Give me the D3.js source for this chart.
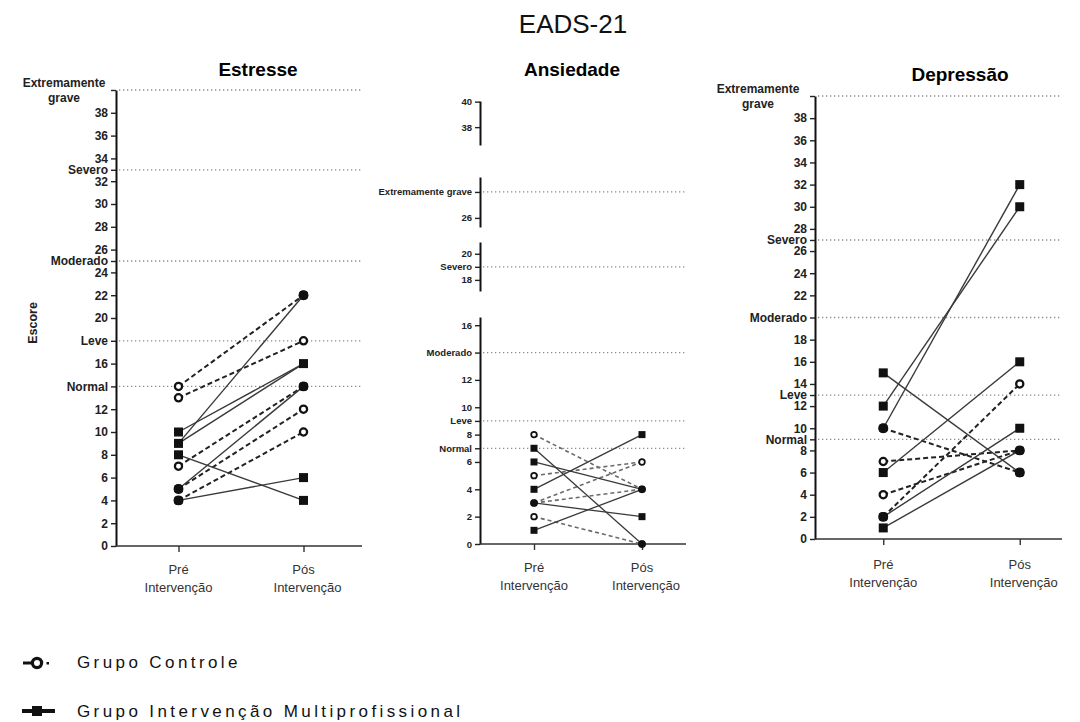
<!DOCTYPE html>
<html>
<head>
<meta charset="utf-8">
<script src="https://cdn.jsdelivr.net/npm/d3@7"></script>
<style>
  body { margin: 0; background: #fff; }
  svg { display: block; }
  text { font-family: Arial, "Liberation Sans", sans-serif; }
</style>
</head>
<body>
<svg id="chart" width="1080" height="722"></svg>
<script>
// ---- Data ----------------------------------------------------------------
const categories = ["Pré", "Pós"];
const categoryLine2 = "Intervenção";
const groups = ["Grupo Controle", "Grupo Intervenção Multiprofissional"];

// Estresse
const estresseControlePre = [14, 13, 7, 5, 4];
const estresseControlePos = [22, 18, 14, 12, 10];
const estresseIntervPre   = [10, 9, 9, 8, 5, 4];
const estresseIntervPos   = [16, 16, 22, 4, 14, 6];
const estresseTicks = [0, 2, 4, 6, 8, 10, 12, 16, 20, 22, 24, 26, 28, 30, 32, 34, 36, 38];
const estresseCutLabels = ["Normal", "Leve", "Moderado", "Severo", "Extremamente\ngrave"];
const estresseCutValues = [14, 18, 25, 33, 40];

// Ansiedade
const ansiedadeControlePre = [8, 5, 3, 3, 2];
const ansiedadeControlePos = [4, 6, 6, 4, 0];
const ansiedadeIntervPre   = [7, 6, 4, 3, 1];
const ansiedadeIntervPos   = [0, 4, 8, 2, 4];
const ansiedadeTicks = [0, 2, 4, 6, 8, 10, 12, 16, 18, 20, 26, 38, 40];
const ansiedadeCutLabels = ["Normal", "Leve", "Moderado", "Severo", "Extremamente grave"];
const ansiedadeCutValues = [7, 9, 14, 19, 28];
// visible stretches of the broken axis
const ansiedadeSegments = [[0, 16.6], [17.15, 20.9], [25.3, 29.15], [36.6, 40.05]];

// Depressão
const depressaoControlePre = [10, 7, 4, 2];
const depressaoControlePos = [6, 8, 8, 14];
const depressaoIntervPre   = [15, 12, 10, 6, 2, 1];
const depressaoIntervPos   = [6, 30, 32, 16, 10, 8];
const depressaoTicks = [0, 2, 4, 6, 8, 10, 12, 14, 16, 18, 22, 24, 26, 28, 30, 32, 34, 36, 38];
const depressaoCutLabels = ["Normal", "Leve", "Moderado", "Severo", "Extremamente\ngrave"];
const depressaoCutValues = [9, 13, 20, 27, 40];

// ---- Drawing -------------------------------------------------------------
const svg = d3.select("#chart");

svg.append("text")
  .attr("x", 573).attr("y", 33)
  .attr("text-anchor", "middle")
  .attr("font-size", 26)
  .attr("fill", "#111")
  .text("EADS-21");

svg.append("text")
  .attr("transform", "translate(37,323) rotate(-90)")
  .attr("text-anchor", "middle")
  .attr("font-size", 12.5)
  .attr("font-weight", "bold")
  .attr("fill", "#222")
  .text("Escore");

function pairs(pre, pos) {
  return pre.map((v, i) => ({ pre: v, pos: pos[i] }));
}

function drawPanel(cfg) {
  const g = svg.append("g");
  const x = d3.scalePoint().domain(categories).range([cfg.axisX, cfg.xEnd]).padding(0.5);

  // y mapping: either a single linear scale or a set of broken stretches
  const pieces = cfg.segments.map((dom, i) =>
    d3.scaleLinear().domain(dom).range(cfg.segmentPx[i]));
  const y = v => {
    const s = pieces.find(p => v >= p.domain()[0] - 1e-9 && v <= p.domain()[1] + 1e-9) || pieces[0];
    return s(v);
  };

  // title
  g.append("text")
    .attr("x", cfg.titleX).attr("y", cfg.titleY)
    .attr("text-anchor", "middle")
    .attr("font-size", 19).attr("font-weight", "bold")
    .text(cfg.title);

  // cut-off reference lines
  cfg.cutValues.forEach(v => {
    g.append("line")
      .attr("x1", cfg.axisX + 3).attr("x2", cfg.lineEnd)
      .attr("y1", y(v)).attr("y2", y(v))
      .attr("stroke", "#8c8c8c").attr("stroke-width", 1.3)
      .attr("stroke-dasharray", "1.3,2.7");
  });

  // y axis, one piece per stretch
  const labelOf = v => {
    const k = cfg.cutValues.indexOf(v);
    return k >= 0 ? cfg.cutLabels[k] : String(v);
  };
  pieces.forEach(scale => {
    const [lo, hi] = scale.domain();
    const vals = cfg.ticks.concat(cfg.cutValues).filter(v => v >= lo && v <= hi).sort((a, b) => a - b);
    const ax = g.append("g")
      .attr("transform", `translate(${cfg.axisX},0)`)
      .call(d3.axisLeft(scale).tickValues(vals).tickSize(5).tickSizeOuter(0)
        .tickPadding(3).tickFormat(labelOf));
    ax.select(".domain").attr("stroke", "#111").attr("stroke-width", 2);
    ax.selectAll(".tick line").attr("stroke", "#222").attr("stroke-width", 1.4);
    ax.selectAll(".tick text")
      .attr("font-family", "Arial, 'Liberation Sans', sans-serif")
      .attr("font-size", cfg.tickFont).attr("font-weight", "bold").attr("fill", "#222")
      .each(function (d) {
        const t = labelOf(d);
        if (t.includes("\n")) {
          const el = d3.select(this).text(null).attr("text-anchor", "middle").attr("dy", null);
          t.split("\n").forEach((part, i) => {
            el.append("tspan").attr("x", -cfg.multiOffset)
              .attr("y", i === 0 ? -4 : 11).text(part);
          });
        }
      });
  });

  // x axis
  const yBase = y(0);
  g.append("line")
    .attr("x1", cfg.axisX).attr("x2", cfg.lineEnd)
    .attr("y1", yBase).attr("y2", yBase)
    .attr("stroke", "#333").attr("stroke-width", 1.6);
  const xa = g.append("g").attr("transform", `translate(0,${yBase})`)
    .call(d3.axisBottom(x).tickSize(6).tickSizeOuter(0).tickFormat(""));
  xa.select(".domain").remove();
  xa.selectAll(".tick line").attr("stroke", "#333").attr("stroke-width", 1.4);

  categories.forEach(c => {
    const t = g.append("text").attr("text-anchor", "middle")
      .attr("font-size", 13).attr("fill", "#333");
    t.append("tspan").attr("x", x(c)).attr("y", yBase + cfg.catDy).text(c);
    t.append("tspan").attr("x", x(c) + (c === "Pós" ? 4 : 0)).attr("y", yBase + cfg.catDy + 18).text(categoryLine2);
  });

  // connecting lines
  const ctrl = pairs(cfg.controlePre, cfg.controlePos);
  const intv = pairs(cfg.intervPre, cfg.intervPos);
  g.selectAll(".ctrl").data(ctrl).join("line")
    .attr("x1", x("Pré")).attr("x2", x("Pós"))
    .attr("y1", d => y(d.pre)).attr("y2", d => y(d.pos))
    .attr("stroke", cfg.dashColor).attr("stroke-width", cfg.dashWidth)
    .attr("stroke-dasharray", cfg.dash);
  g.selectAll(".intv").data(intv).join("line")
    .attr("x1", x("Pré")).attr("x2", x("Pós"))
    .attr("y1", d => y(d.pre)).attr("y2", d => y(d.pos))
    .attr("stroke", "#3a3a3a").attr("stroke-width", cfg.solidWidth);

  // markers: open circle (controle), square (intervenção), filled where both meet
  const marks = new Map();
  const add = (cat, v, grp) => {
    const k = cat + "|" + v;
    if (!marks.has(k)) marks.set(k, { cat, v, grp: new Set() });
    marks.get(k).grp.add(grp);
  };
  ctrl.forEach(d => { add("Pré", d.pre, 0); add("Pós", d.pos, 0); });
  intv.forEach(d => { add("Pré", d.pre, 1); add("Pós", d.pos, 1); });
  const s = cfg.markSize;
  marks.forEach(m => {
    const cx = x(m.cat), cy = y(m.v);
    if (m.grp.size === 2) {
      g.append("rect").attr("x", cx - s / 2).attr("y", cy - s / 2)
        .attr("width", s).attr("height", s).attr("rx", s * 0.35).attr("fill", "#111");
      g.append("circle").attr("cx", cx).attr("cy", cy).attr("r", s * 0.55).attr("fill", "#111");
    } else if (m.grp.has(0)) {
      g.append("circle").attr("cx", cx).attr("cy", cy).attr("r", s * 0.4)
        .attr("fill", "#fff").attr("stroke", "#111").attr("stroke-width", s * 0.25);
    } else {
      g.append("rect").attr("x", cx - s / 2).attr("y", cy - s / 2)
        .attr("width", s).attr("height", s).attr("fill", "#111");
    }
  });
}

drawPanel({
  title: "Estresse", titleX: 258, titleY: 76,
  axisX: 116, xEnd: 366, lineEnd: 362,
  segments: [[0, 40]], segmentPx: [[546, 90]],
  ticks: estresseTicks, cutLabels: estresseCutLabels, cutValues: estresseCutValues,
  tickFont: 12, multiOffset: 52, catDy: 28,
  controlePre: estresseControlePre, controlePos: estresseControlePos,
  intervPre: estresseIntervPre, intervPos: estresseIntervPos,
  markSize: 9, dash: "5,3", dashColor: "#222", dashWidth: 2, solidWidth: 1.4
});

drawPanel({
  title: "Ansiedade", titleX: 572, titleY: 76,
  axisX: 480, xEnd: 696, lineEnd: 686,
  segments: ansiedadeSegments,
  segmentPx: [[544, 317], [291, 242], [227, 177], [145, 101]],
  ticks: ansiedadeTicks, cutLabels: ansiedadeCutLabels, cutValues: ansiedadeCutValues,
  tickFont: 9.5, multiOffset: 40, catDy: 28,
  controlePre: ansiedadeControlePre, controlePos: ansiedadeControlePos,
  intervPre: ansiedadeIntervPre, intervPos: ansiedadeIntervPos,
  markSize: 7, dash: "4,3", dashColor: "#6a6a6a", dashWidth: 1.6, solidWidth: 1.3
});

drawPanel({
  title: "Depressão", titleX: 960, titleY: 81,
  axisX: 815, xEnd: 1088, lineEnd: 1062,
  segments: [[0, 40]], segmentPx: [[539, 96]],
  ticks: depressaoTicks, cutLabels: depressaoCutLabels, cutValues: depressaoCutValues,
  tickFont: 12, multiOffset: 57, catDy: 30,
  controlePre: depressaoControlePre, controlePos: depressaoControlePos,
  intervPre: depressaoIntervPre, intervPos: depressaoIntervPos,
  markSize: 9, dash: "5,3", dashColor: "#222", dashWidth: 2, solidWidth: 1.4
});

// ---- Legend --------------------------------------------------------------
const leg = svg.append("g");
// controle glyph
leg.append("line").attr("x1", 23).attr("x2", 31).attr("y1", 663).attr("y2", 663)
  .attr("stroke", "#111").attr("stroke-width", 3);
leg.append("circle").attr("cx", 37).attr("cy", 663).attr("r", 4.6)
  .attr("fill", "#fff").attr("stroke", "#111").attr("stroke-width", 3.2);
leg.append("rect").attr("x", 46.5).attr("y", 662).attr("width", 2.5).attr("height", 2.5).attr("fill", "#111");
// intervenção glyph
leg.append("line").attr("x1", 22).attr("x2", 55).attr("y1", 711).attr("y2", 711)
  .attr("stroke", "#111").attr("stroke-width", 4);
leg.append("rect").attr("x", 32).attr("y", 706).attr("width", 10).attr("height", 10).attr("fill", "#111");

groups.forEach((name, i) => {
  leg.append("text")
    .attr("x", 77).attr("y", 668 + i * 49)
    .attr("font-size", 17).attr("letter-spacing", 3.4)
    .attr("fill", "#111")
    .text(name);
});
</script>
</body>
</html>
